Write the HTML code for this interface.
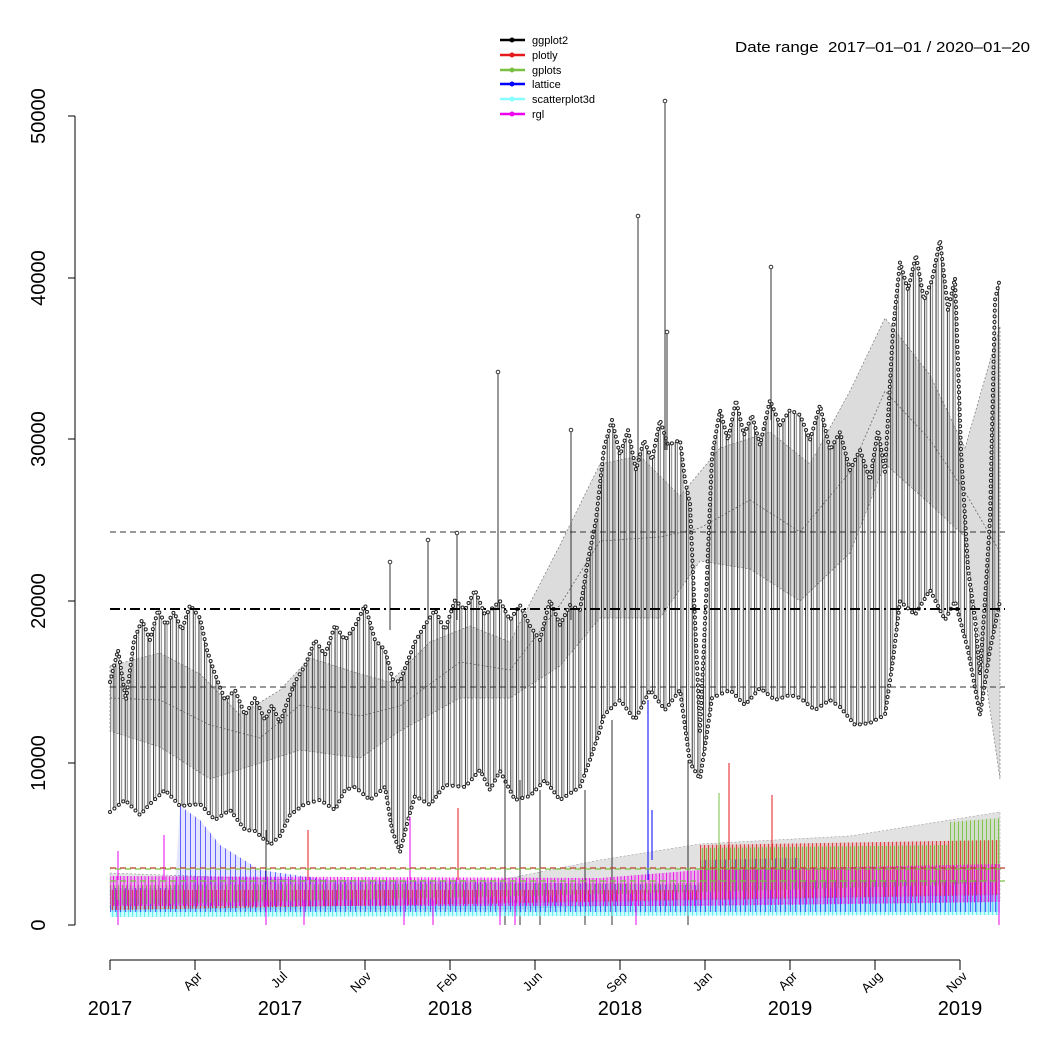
<!DOCTYPE html>
<html><head><meta charset="utf-8"><style>body{margin:0;background:#fff}svg{display:block}text{font-family:"Liberation Sans",sans-serif}</style></head>
<body>
<svg width="1050" height="1050" viewBox="0 0 1050 1050" xmlns="http://www.w3.org/2000/svg">
<defs>
<pattern id="pk" width="5.67" height="10" patternUnits="userSpaceOnUse"><rect x="0" y="0" width="1" height="10" fill="#333"/><rect x="2.2" y="0" width="0.8" height="10" fill="#666"/></pattern>
<pattern id="pr" width="4" height="10" patternUnits="userSpaceOnUse"><rect width="4" height="10" fill="#e41a1c" fill-opacity="0.15"/><rect width="1" height="10" fill="#e41a1c" fill-opacity="0.8"/></pattern>
<pattern id="pg" width="4" height="10" patternUnits="userSpaceOnUse"><rect width="4" height="10" fill="#7ac143" fill-opacity="0.15"/><rect x="2" width="1" height="10" fill="#7ac143" fill-opacity="0.9"/></pattern>
<pattern id="pb" width="5" height="10" patternUnits="userSpaceOnUse"><rect width="5" height="10" fill="#0000ff" fill-opacity="0.1"/><rect width="0.8" height="10" fill="#0000ff" fill-opacity="0.7"/></pattern>
<pattern id="pc" width="4" height="10" patternUnits="userSpaceOnUse"><rect width="4" height="10" fill="#8ff" fill-opacity="0.4"/><rect width="1.2" height="10" fill="#6ee"/></pattern>
<pattern id="pm" width="3.5" height="10" patternUnits="userSpaceOnUse"><rect width="3.5" height="10" fill="#e0e" fill-opacity="0.2"/><rect x="1" width="1" height="10" fill="#e0e" fill-opacity="0.85"/></pattern>
</defs>
<rect width="1050" height="1050" fill="#fff"/>
<!-- gray bands -->
<polygon points="110,666 160,653 200,674 240,715 280,690 310,658 360,674 390,682 430,642 470,626 510,642 560,545 600,464 640,456 680,496 720,448 770,432 810,464 850,391 885,318 930,375 965,448 1000,326 1000,779 965,537 930,504 885,464 850,553 800,601 750,569 700,561 660,618 600,618 560,666 510,698 460,698 400,731 360,758 300,750 260,763 210,779 160,747 110,731" fill="#dcdcdc" stroke="#777" stroke-dasharray="2,2" stroke-width="0.7"/>
<polyline points="110,698 160,700 210,725 260,738 300,705 360,716 400,706 460,662 510,670 560,605 600,541 660,537 700,528 750,500 800,532 850,472 885,391 930,440 965,492 1000,552" fill="none" stroke="#666" stroke-dasharray="2,2" stroke-width="0.8"/>
<polygon points="110,873 300,880 500,880 600,860 700,844 850,836 950,820 1000,812 1000,901 600,906 500,909 110,909" fill="#e2e2e2" stroke="#999" stroke-dasharray="2,2" stroke-width="0.6"/>
<!-- black series band -->
<polygon fill="url(#pk)" points="110,682 118,650 126,700 134,640 142,620 150,640 158,610 166,625 174,612 182,630 190,605 200,618 207,650 215,674 225,700 235,690 245,715 255,698 265,720 272,705 280,723 288,700 296,680 305,666 315,640 325,655 335,625 345,640 355,626 365,605 375,640 385,650 393,680 400,682 408,660 415,642 425,625 435,610 445,630 455,600 465,610 475,590 485,615 500,601 510,620 520,605 530,626 540,640 550,600 560,625 570,605 580,610 588,560 596,520 604,448 612,420 620,455 628,430 636,470 644,440 652,460 660,420 668,445 680,440 685,480 690,504 695,620 700,731 706,600 712,456 720,410 728,440 736,400 744,435 752,415 760,445 770,400 780,425 790,410 800,415 810,440 820,405 830,450 840,432 850,470 860,450 870,480 878,430 885,472 893,330 900,262 908,290 916,255 924,300 932,280 940,240 948,310 955,278 961,450 968,569 975,620 980,674 985,600 990,520 995,300 1000,278 1000,601 990,650 980,715 968,650 955,601 945,620 930,590 915,615 900,601 893,660 885,715 870,723 855,725 840,707 830,700 815,710 800,698 790,695 775,700 760,688 745,705 730,690 712,698 706,740 700,779 690,763 680,690 665,710 650,690 635,720 620,700 604,715 600,730 590,760 580,787 560,800 545,780 530,796 515,800 500,771 490,790 480,770 465,787 445,785 430,805 415,796 408,820 400,852 392,830 385,787 370,800 355,787 345,790 335,810 320,800 305,804 290,815 280,836 270,845 255,831 245,830 230,810 215,820 200,804 180,806 165,790 150,804 140,815 125,800 110,812"/>
<g fill="none" stroke-dasharray="0 5.67" stroke-linecap="round">
<polyline stroke="#222" stroke-width="4" points="110,682 118,650 126,700 134,640 142,620 150,640 158,610 166,625 174,612 182,630 190,605 200,618 207,650 215,674 225,700 235,690 245,715 255,698 265,720 272,705 280,723 288,700 296,680 305,666 315,640 325,655 335,625 345,640 355,626 365,605 375,640 385,650 393,680 400,682 408,660 415,642 425,625 435,610 445,630 455,600 465,610 475,590 485,615 500,601 510,620 520,605 530,626 540,640 550,600 560,625 570,605 580,610 588,560 596,520 604,448 612,420 620,455 628,430 636,470 644,440 652,460 660,420 668,445 680,440 685,480 690,504 695,620 700,731 706,600 712,456 720,410 728,440 736,400 744,435 752,415 760,445 770,400 780,425 790,410 800,415 810,440 820,405 830,450 840,432 850,470 860,450 870,480 878,430 885,472 893,330 900,262 908,290 916,255 924,300 932,280 940,240 948,310 955,278 961,450 968,569 975,620 980,674 985,600 990,520 995,300 1000,278"/>
<polyline stroke="#fff" stroke-width="2" points="110,682 118,650 126,700 134,640 142,620 150,640 158,610 166,625 174,612 182,630 190,605 200,618 207,650 215,674 225,700 235,690 245,715 255,698 265,720 272,705 280,723 288,700 296,680 305,666 315,640 325,655 335,625 345,640 355,626 365,605 375,640 385,650 393,680 400,682 408,660 415,642 425,625 435,610 445,630 455,600 465,610 475,590 485,615 500,601 510,620 520,605 530,626 540,640 550,600 560,625 570,605 580,610 588,560 596,520 604,448 612,420 620,455 628,430 636,470 644,440 652,460 660,420 668,445 680,440 685,480 690,504 695,620 700,731 706,600 712,456 720,410 728,440 736,400 744,435 752,415 760,445 770,400 780,425 790,410 800,415 810,440 820,405 830,450 840,432 850,470 860,450 870,480 878,430 885,472 893,330 900,262 908,290 916,255 924,300 932,280 940,240 948,310 955,278 961,450 968,569 975,620 980,674 985,600 990,520 995,300 1000,278"/>
<polyline stroke="#222" stroke-width="4" points="110,812 125,800 140,815 150,804 165,790 180,806 200,804 215,820 230,810 245,830 255,831 270,845 280,836 290,815 305,804 320,800 335,810 345,790 355,787 370,800 385,787 392,830 400,852 408,820 415,796 430,805 445,785 465,787 480,770 490,790 500,771 515,800 530,796 545,780 560,800 580,787 590,760 600,730 604,715 620,700 635,720 650,690 665,710 680,690 690,763 700,779 706,740 712,698 730,690 745,705 760,688 775,700 790,695 800,698 815,710 830,700 840,707 855,725 870,723 885,715 893,660 900,601 915,615 930,590 945,620 955,601 968,650 980,715 990,650 1000,601"/>
<polyline stroke="#fff" stroke-width="2" points="110,812 125,800 140,815 150,804 165,790 180,806 200,804 215,820 230,810 245,830 255,831 270,845 280,836 290,815 305,804 320,800 335,810 345,790 355,787 370,800 385,787 392,830 400,852 408,820 415,796 430,805 445,785 465,787 480,770 490,790 500,771 515,800 530,796 545,780 560,800 580,787 590,760 600,730 604,715 620,700 635,720 650,690 665,710 680,690 690,763 700,779 706,740 712,698 730,690 745,705 760,688 775,700 790,695 800,698 815,710 830,700 840,707 855,725 870,723 885,715 893,660 900,601 915,615 930,590 945,620 955,601 968,650 980,715 990,650 1000,601"/>
</g>
<g stroke="#333" stroke-width="1" fill="#fff">
<line x1="498" y1="610" x2="498" y2="372"/><circle cx="498" cy="372" r="1.8"/>
<line x1="638" y1="460" x2="638" y2="216"/><circle cx="638" cy="216" r="1.8"/>
<line x1="665" y1="450" x2="665" y2="101"/><circle cx="665" cy="101" r="1.8"/>
<line x1="667" y1="450" x2="667" y2="332"/><circle cx="667" cy="332" r="1.8"/>
<line x1="771" y1="420" x2="771" y2="267"/><circle cx="771" cy="267" r="1.8"/>
<line x1="428" y1="620" x2="428" y2="540"/><circle cx="428" cy="540" r="1.8"/>
<line x1="457" y1="620" x2="457" y2="533"/><circle cx="457" cy="533" r="1.8"/>
<line x1="571" y1="620" x2="571" y2="430"/><circle cx="571" cy="430" r="1.8"/>
<line x1="390" y1="630" x2="390" y2="562"/><circle cx="390" cy="562" r="1.8"/>
<line x1="505" y1="780" x2="505" y2="925"/><line x1="520" y1="780" x2="520" y2="925"/><line x1="540" y1="790" x2="540" y2="925"/>
<line x1="585" y1="790" x2="585" y2="925"/><line x1="612" y1="720" x2="612" y2="925"/><line x1="688" y1="760" x2="688" y2="925"/><line x1="266" y1="830" x2="266" y2="925"/>
</g>
<!-- colored series -->
<polygon fill="url(#pc)" points="110,898 600,900 1000,893 1000,915 600,916 110,917"/>
<polygon fill="url(#pb)" points="110,888 175,888 180,806 200,820 220,845 260,870 330,880 700,885 700,860 800,858 800,880 1000,880 1000,912 110,912"/>
<polygon fill="url(#pr)" points="110,890 700,890 700,845 1000,840 1000,895 700,900 110,910"/>
<polygon fill="url(#pg)" points="110,885 700,883 700,848 950,845 950,822 1000,818 1000,880 950,885 700,892 110,905"/>
<polygon fill="url(#pm)" points="110,876 600,878 700,870 1000,864 1000,902 700,906 110,906"/>
<g stroke-width="1" fill="none">
<line x1="648" y1="880" x2="648" y2="700" stroke="#0000ff"/><line x1="652" y1="860" x2="652" y2="810" stroke="#0000ff"/>
<line x1="729" y1="860" x2="729" y2="763" stroke="#e41a1c"/><line x1="772" y1="860" x2="772" y2="795" stroke="#e41a1c"/>
<line x1="458" y1="880" x2="458" y2="808" stroke="#e41a1c"/><line x1="308" y1="880" x2="308" y2="830" stroke="#e41a1c"/>
<line x1="164" y1="880" x2="164" y2="835" stroke="#e0e"/><line x1="118" y1="880" x2="118" y2="851" stroke="#e0e"/><line x1="410" y1="880" x2="410" y2="817" stroke="#e0e"/>
<line x1="719" y1="880" x2="719" y2="793" stroke="#7ac143"/>
<g stroke="#e0e"><line x1="118" y1="900" x2="118" y2="925"/><line x1="266" y1="900" x2="266" y2="925"/><line x1="304" y1="900" x2="304" y2="925"/><line x1="404" y1="900" x2="404" y2="925"/><line x1="433" y1="900" x2="433" y2="925"/><line x1="500" y1="900" x2="500" y2="925"/><line x1="515" y1="900" x2="515" y2="925"/><line x1="636" y1="900" x2="636" y2="925"/><line x1="999" y1="900" x2="999" y2="925"/></g>
</g>
<!-- reference lines -->
<line x1="110" y1="532" x2="1005" y2="532" stroke="#333" stroke-dasharray="6,4" stroke-width="1"/>
<line x1="110" y1="609" x2="1005" y2="609" stroke="#000" stroke-dasharray="10,4,2,4" stroke-width="2"/>
<line x1="110" y1="687" x2="1005" y2="687" stroke="#333" stroke-dasharray="6,4" stroke-width="1"/>
<line x1="110" y1="868" x2="1005" y2="868" stroke="#c0392b" stroke-dasharray="6,4" stroke-width="1.3"/>
<line x1="110" y1="869" x2="1005" y2="869" stroke="#7ac143" stroke-dasharray="6,4" stroke-width="1.3" stroke-dashoffset="5"/>
<line x1="110" y1="881" x2="1005" y2="881" stroke="#7ac143" stroke-dasharray="6,4" stroke-width="1.2"/>
<!-- axes -->
<g stroke="#000" stroke-width="1">
<line x1="75" y1="116" x2="75" y2="925"/>
<line x1="68" y1="925" x2="75" y2="925"/><line x1="68" y1="763" x2="75" y2="763"/><line x1="68" y1="601" x2="75" y2="601"/>
<line x1="68" y1="439" x2="75" y2="439"/><line x1="68" y1="278" x2="75" y2="278"/><line x1="68" y1="116" x2="75" y2="116"/>
<line x1="110" y1="960" x2="960" y2="960"/>
<line x1="110" y1="960" x2="110" y2="970"/><line x1="195" y1="960" x2="195" y2="970"/><line x1="280" y1="960" x2="280" y2="970"/>
<line x1="365" y1="960" x2="365" y2="970"/><line x1="450" y1="960" x2="450" y2="970"/><line x1="535" y1="960" x2="535" y2="970"/>
<line x1="620" y1="960" x2="620" y2="970"/><line x1="705" y1="960" x2="705" y2="970"/><line x1="790" y1="960" x2="790" y2="970"/>
<line x1="875" y1="960" x2="875" y2="970"/><line x1="960" y1="960" x2="960" y2="970"/>
</g>
<g font-size="20" text-anchor="middle">
<text transform="translate(45,925) rotate(-90)">0</text>
<text transform="translate(45,763) rotate(-90)">10000</text>
<text transform="translate(45,601) rotate(-90)">20000</text>
<text transform="translate(45,439) rotate(-90)">30000</text>
<text transform="translate(45,278) rotate(-90)">40000</text>
<text transform="translate(45,116) rotate(-90)">50000</text>
<text x="110" y="1015">2017</text><text x="280" y="1015">2017</text><text x="450" y="1015">2018</text>
<text x="620" y="1015">2018</text><text x="790" y="1015">2019</text><text x="960" y="1015">2019</text>
</g>
<g font-size="13" text-anchor="end">
<text transform="translate(203,977) rotate(-45)">Apr</text>
<text transform="translate(288,977) rotate(-45)">Jul</text>
<text transform="translate(372,977) rotate(-45)">Nov</text>
<text transform="translate(458,977) rotate(-45)">Feb</text>
<text transform="translate(543,977) rotate(-45)">Jun</text>
<text transform="translate(628,977) rotate(-45)">Sep</text>
<text transform="translate(713,977) rotate(-45)">Jan</text>
<text transform="translate(798,977) rotate(-45)">Apr</text>
<text transform="translate(883,977) rotate(-45)">Aug</text>
<text transform="translate(968,977) rotate(-45)">Nov</text>
</g>
<!-- legend -->
<g stroke-width="2.5">
<line x1="500" y1="40" x2="525" y2="40" stroke="#000"/><circle cx="512" cy="40" r="2.5" fill="#000"/>
<line x1="500" y1="55" x2="525" y2="55" stroke="#e41a1c"/><circle cx="512" cy="55" r="2.5" fill="#e41a1c"/>
<line x1="500" y1="70" x2="525" y2="70" stroke="#7ac143"/><circle cx="512" cy="70" r="2.5" fill="#7ac143"/>
<line x1="500" y1="84" x2="525" y2="84" stroke="#0000ff"/><circle cx="512" cy="84" r="2.5" fill="#0000ff"/>
<line x1="500" y1="99" x2="525" y2="99" stroke="#8ff"/><circle cx="512" cy="99" r="2.5" fill="#8ff"/>
<line x1="500" y1="114" x2="525" y2="114" stroke="#e0e"/><circle cx="512" cy="114" r="2.5" fill="#e0e"/>
</g>
<g font-size="11">
<text x="532" y="44">ggplot2</text><text x="532" y="59">plotly</text><text x="532" y="74">gplots</text>
<text x="532" y="88">lattice</text><text x="532" y="103">scatterplot3d</text><text x="532" y="118">rgl</text>
</g>
<text x="735" y="52" font-size="15" textLength="295" lengthAdjust="spacingAndGlyphs" xml:space="preserve">Date range  2017–01–01 / 2020–01–20</text>
</svg>
</body></html>
